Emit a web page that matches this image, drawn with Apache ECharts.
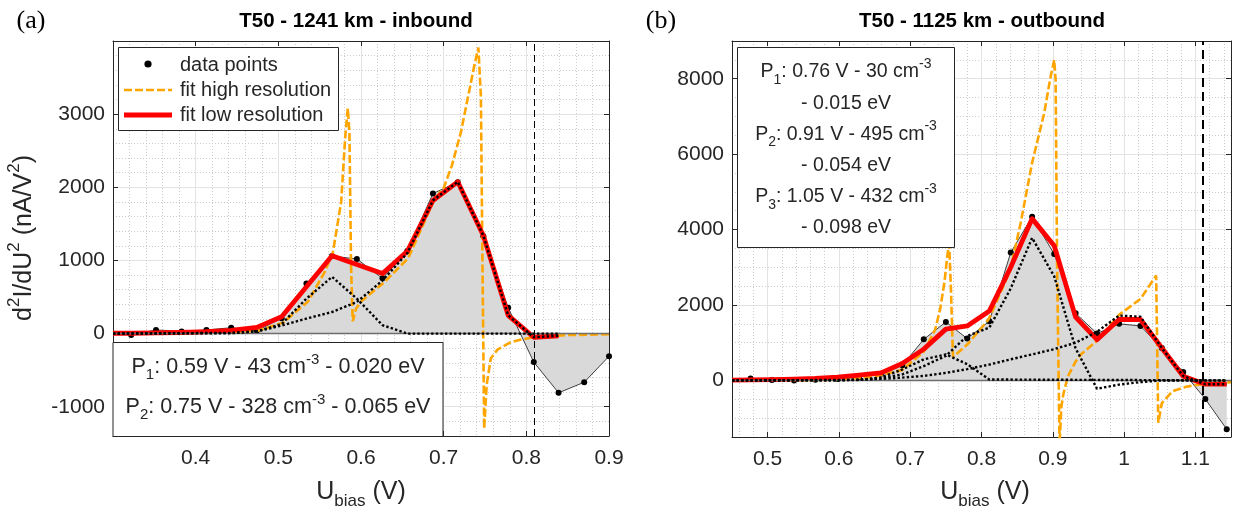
<!DOCTYPE html>
<html><head><meta charset="utf-8">
<script src="https://cdn.jsdelivr.net/npm/echarts@6/dist/echarts.min.js"></script>
<style>html,body{margin:0;padding:0;background:#fff}#c{width:1235px;height:513px}</style>
</head><body><div id="c"></div>
<script>
// ---------------- Panel (a): T50 - 1241 km - inbound ----------------
const aDataX = [0.322, 0.352, 0.383, 0.413, 0.443, 0.474, 0.504, 0.534, 0.565, 0.595, 0.626, 0.656, 0.687, 0.717, 0.748, 0.778, 0.809, 0.839, 0.870, 0.900];
const aDataY = [-20, 50, 30, 50, 80, 40, 210, 685, 1060, 1020, 755, 1130, 1915, 2070, 1330, 355, -390, -810, -665, -310];
const aLowX = [0.300, 0.322, 0.352, 0.383, 0.413, 0.443, 0.474, 0.504, 0.534, 0.565, 0.595, 0.626, 0.656, 0.687, 0.717, 0.748, 0.778, 0.809, 0.839];
const aLowY = [5, 5, 10, 15, 25, 45, 85, 230, 640, 1065, 945, 820, 1125, 1820, 2075, 1340, 250, -50, -30];
const aHighX = [0.300, 0.350, 0.400, 0.450, 0.475, 0.506, 0.536, 0.556, 0.566, 0.576, 0.581, 0.584, 0.586, 0.588, 0.590, 0.594, 0.600, 0.628, 0.657, 0.689, 0.700, 0.710, 0.721, 0.729, 0.737, 0.742, 0.745, 0.747, 0.749, 0.752, 0.757, 0.765, 0.779, 0.790, 0.810, 0.850, 0.900];
const aHighY = [0, 5, 10, 20, 40, 150, 440, 840, 1110, 1800, 2700, 3080, 2750, 900, 170, 340, 440, 700, 1030, 1840, 1990, 2300, 2760, 3210, 3660, 3910, 3250, 900, -1300, -700, -340, -220, -130, -90, -45, -20, -10];
const aP1X = [0.300, 0.443, 0.474, 0.504, 0.534, 0.565, 0.595, 0.626, 0.656, 0.839];
const aP1Y = [0, 5, 30, 130, 478, 775, 478, 115, 0, 0];
const aP2X = [0.300, 0.443, 0.474, 0.504, 0.534, 0.565, 0.595, 0.626, 0.656, 0.687, 0.717, 0.748, 0.778, 0.809, 0.839];
const aP2Y = [0, 10, 30, 110, 205, 295, 432, 725, 1100, 1820, 2075, 1340, 250, -50, -30];
const aCutoff = 0.809;
const aXTickLabels = [0.4, 0.5, 0.6, 0.7, 0.8, 0.9];
const aYTickLabels = [-1000, 0, 1000, 2000, 3000];
const aXRange = [0.3, 0.9];
const aYRange = [-1400, 4000];
const aNotes = ['{m|P}{sub|1}{m|: 0.59 V - 43 cm}{sup|-3}{m| - 0.020 eV}',
                '{m|P}{sub|2}{m|: 0.75 V - 328 cm}{sup|-3}{m| - 0.065 eV}'];

// ---------------- Panel (b): T50 - 1125 km - outbound ----------------
const bDataX = [0.476, 0.506, 0.537, 0.567, 0.598, 0.628, 0.659, 0.689, 0.719, 0.750, 0.780, 0.811, 0.841, 0.871, 0.902, 0.932, 0.962, 0.993, 1.023, 1.053, 1.083, 1.114, 1.144];
const bDataY = [50, 10, 0, 20, 40, 90, 180, 400, 1090, 1550, 1110, 1570, 3390, 4340, 3350, 1780, 1245, 1500, 1445, 858, 222, -495, -1295];
const bLowX = [0.450, 0.476, 0.506, 0.537, 0.567, 0.598, 0.628, 0.659, 0.689, 0.719, 0.750, 0.780, 0.811, 0.841, 0.871, 0.902, 0.932, 0.962, 0.993, 1.023, 1.053, 1.083, 1.114, 1.144];
const bLowY = [10, 15, 20, 35, 55, 90, 140, 200, 450, 830, 1360, 1445, 1840, 3000, 4290, 3570, 1680, 1080, 1615, 1615, 860, 110, -100, -100];
const bHighX = [0.450, 0.550, 0.600, 0.650, 0.689, 0.719, 0.735, 0.742, 0.748, 0.752, 0.7546, 0.757, 0.760, 0.780, 0.810, 0.840, 0.855, 0.871, 0.888, 0.897, 0.902, 0.904, 0.906, 0.9095, 0.912, 0.915, 0.921, 0.932, 0.940, 0.962, 0.993, 1.023, 1.045, 1.048, 1.053, 1.068, 1.087, 1.106, 1.150];
const bHighY = [0, 5, 20, 100, 280, 760, 1350, 1890, 2600, 3300, 3620, 2500, 620, 950, 1620, 2900, 4180, 5770, 7090, 8060, 8500, 7970, 3100, -1700, -700, -350, 100, 500, 700, 1050, 1740, 2160, 2780, -1120, -600, -285, -170, -105, -45];
const bP1X = [0.450, 0.628, 0.659, 0.689, 0.719, 0.750, 0.780, 0.811, 1.144];
const bP1Y = [0, 10, 80, 290, 560, 690, 430, 25, 0];
const bP2X = [0.450, 0.628, 0.659, 0.689, 0.719, 0.750, 0.780, 0.811, 0.841, 0.871, 0.902, 0.932, 0.962, 0.993, 1.023, 1.053, 1.144];
const bP2Y = [0, 15, 60, 160, 380, 650, 1180, 1400, 2440, 3780, 2760, 850, -220, -110, -45, 0, 0];
const bP3X = [0.450, 0.598, 0.659, 0.689, 0.719, 0.750, 0.780, 0.811, 0.841, 0.871, 0.902, 0.932, 0.962, 0.993, 1.023, 1.053, 1.083, 1.114, 1.144];
const bP3Y = [0, 5, 40, 75, 120, 200, 300, 420, 560, 690, 830, 1000, 1290, 1720, 1690, 860, 115, -100, -100];
const bCutoff = 1.113;
const bXTickLabels = [0.5, 0.6, 0.7, 0.8, 0.9, 1.0, 1.1];
const bYTickLabels = [0, 2000, 4000, 6000, 8000];
const bXRange = [0.45, 1.15];
const bYRange = [-1500, 9000];
const bNotes = ['{m|P}{sub|1}{m|: 0.76 V - 30 cm}{sup|-3}',
                '{m|- 0.015 eV}',
                '{m|P}{sub|2}{m|: 0.91 V - 495 cm}{sup|-3}',
                '{m|- 0.054 eV}',
                '{m|P}{sub|3}{m|: 1.05 V - 432 cm}{sup|-3}',
                '{m|- 0.098 eV}'];

const legendNames = ['data points', 'fit high resolution', 'fit low resolution'];
const titles = ['T50 - 1241 km - inbound', 'T50 - 1125 km - outbound'];
const panelTags = ['(a)', '(b)'];

// ---------------- styling ----------------
const FONT = "'Liberation Sans', Arial, Helvetica, sans-serif";
const AX = '#262626';
const ORANGE = '#FFA500';
const RED = '#FF0000';
const FILL = '#d9d9d9';

const pairs = (X, Y) => X.map((x, i) => [x, Y[i]]);
const inList = (list, v) => list.some(t => Math.abs(t - v) < 1e-9);
const fmtX = v => String(Math.round(v * 100) / 100);
const fmtY = v => String(Math.round(v));

function xAxisPair(g, range, split, minorN, labels) {
  return [{
    type: 'value', gridIndex: g, min: range[0], max: range[1], splitNumber: split, position: 'bottom',
    axisLine: { show: true, onZero: false, lineStyle: { color: AX, width: 1 } },
    axisTick: { show: true, inside: true, length: 5, lineStyle: { color: AX } },
    axisLabel: { show: true, margin: 12, fontSize: 21, color: AX, fontFamily: FONT,
      showMinLabel: true, showMaxLabel: true, hideOverlap: false,
      formatter: v => inList(labels, v) ? fmtX(v) : '' },
    splitLine: { show: true, lineStyle: { color: '#e3e3e3', width: 1 } },
    minorTick: { show: false, splitNumber: minorN },
    minorSplitLine: { show: true, lineStyle: { color: '#cccccc', width: 1, type: [1, 2] } }
  }, {
    type: 'value', gridIndex: g, min: range[0], max: range[1], splitNumber: split, position: 'top',
    axisLine: { show: true, onZero: false, lineStyle: { color: AX, width: 1 } },
    axisTick: { show: true, inside: true, length: 5, lineStyle: { color: AX } },
    axisLabel: { show: false }, splitLine: { show: false }, minorSplitLine: { show: false }
  }];
}
function yAxisPair(g, range, split, minorN, labels) {
  return [{
    type: 'value', gridIndex: g, min: range[0], max: range[1], splitNumber: split, position: 'left',
    axisLine: { show: true, onZero: false, lineStyle: { color: AX, width: 1 } },
    axisTick: { show: true, inside: true, length: 5, lineStyle: { color: AX } },
    axisLabel: { show: true, margin: 8, fontSize: 21, color: AX, fontFamily: FONT,
      showMinLabel: true, showMaxLabel: true, hideOverlap: false,
      formatter: v => inList(labels, v) ? fmtY(v) : '' },
    splitLine: { show: true, lineStyle: { color: '#e3e3e3', width: 1 } },
    minorTick: { show: false, splitNumber: minorN },
    minorSplitLine: { show: true, lineStyle: { color: '#cccccc', width: 1, type: [1, 2] } }
  }, {
    type: 'value', gridIndex: g, min: range[0], max: range[1], splitNumber: split, position: 'right',
    axisLine: { show: true, onZero: false, lineStyle: { color: AX, width: 1 } },
    axisTick: { show: true, inside: true, length: 5, lineStyle: { color: AX } },
    axisLabel: { show: false }, splitLine: { show: false }, minorSplitLine: { show: false }
  }];
}

function panelSeries(xi, yi, d, cutoff, cutoffStyle) {
  const base = { type: 'line', xAxisIndex: xi, yAxisIndex: yi, animation: false, silent: true, clip: true };
  const dotted = name => Object.assign({}, base, { name, showSymbol: false, symbol: 'none',
    lineStyle: { color: '#000', width: 2.4, type: [2.4, 2.2] }, z: 6 });
  const list = [
    Object.assign({}, base, {
      name: legendNames[0], data: pairs(d.dataX, d.dataY), symbol: 'circle', symbolSize: 6, showSymbol: true,
      itemStyle: { color: '#000' }, lineStyle: { color: '#111', width: 0.8 },
      areaStyle: { color: FILL, opacity: 1 }, z: 2,
      markLine: { silent: true, symbol: ['none', 'none'], label: { show: false }, animation: false,
        data: [
          { yAxis: 0, lineStyle: { color: '#6e6e6e', width: 1.3, type: 'solid' } },
          { xAxis: cutoff, lineStyle: cutoffStyle }
        ] }
    }),
    Object.assign({}, base, { name: legendNames[1], data: pairs(d.highX, d.highY), showSymbol: false, symbol: 'none',
      lineStyle: { color: ORANGE, width: 2.6, type: [8, 3] }, z: 3 }),
    Object.assign({}, base, { name: legendNames[2], data: pairs(d.lowX, d.lowY), showSymbol: false, symbol: 'none',
      lineStyle: { color: RED, width: 4.8, join: 'round' }, z: 4 })
  ];
  d.comps.forEach((c, i) => list.push(Object.assign(dotted('P' + (i + 1)), { data: pairs(c[0], c[1]) })));
  return list;
}

const series = [].concat(
  panelSeries(0, 0, { dataX: aDataX, dataY: aDataY, lowX: aLowX, lowY: aLowY, highX: aHighX, highY: aHighY,
    comps: [[aP1X, aP1Y], [aP2X, aP2Y]] }, aCutoff, { color: '#000', width: 1, type: [7, 4] }),
  panelSeries(2, 2, { dataX: bDataX, dataY: bDataY, lowX: bLowX, lowY: bLowY, highX: bHighX, highY: bHighY,
    comps: [[bP1X, bP1Y], [bP2X, bP2Y], [bP3X, bP3Y]] }, bCutoff, { color: '#000', width: 2, type: [9, 5] })
);

// ---------------- text / legend / annotation graphics ----------------
function noteRich(fs, ss) {
  return {
    m: { fontSize: fs, fontFamily: FONT, fill: AX, lineHeight: 30, verticalAlign: 'middle' },
    sub: { fontSize: ss, fontFamily: FONT, fill: AX, lineHeight: ss, verticalAlign: 'bottom' },
    sup: { fontSize: ss, fontFamily: FONT, fill: AX, lineHeight: ss, verticalAlign: 'top' }
  };
}
function rtext(x, y, text, rich, rot) {
  return { type: 'text', x, y, rotation: rot || 0, z: 100, silent: true,
    style: { text, rich, align: 'center', verticalAlign: 'middle', fill: AX } };
}
const graphics = [];
// panel tags and titles
graphics.push({ type: 'text', x: 31, y: 21, z: 100, style: { text: panelTags[0], font: "26px 'Liberation Serif', 'Times New Roman', serif", fill: '#000', align: 'center', verticalAlign: 'middle' } });
graphics.push({ type: 'text', x: 661, y: 21, z: 100, style: { text: panelTags[1], font: "26px 'Liberation Serif', 'Times New Roman', serif", fill: '#000', align: 'center', verticalAlign: 'middle' } });
graphics.push({ type: 'text', x: 356, y: 21, z: 100, style: { text: titles[0], font: "bold 20.5px " + FONT, fill: '#000', align: 'center', verticalAlign: 'middle' } });
graphics.push({ type: 'text', x: 982, y: 21, z: 100, style: { text: titles[1], font: "bold 20.5px " + FONT, fill: '#000', align: 'center', verticalAlign: 'middle' } });
// axis labels
const richAxis = {
  m: { fontSize: 25, fontFamily: FONT, fill: AX, lineHeight: 36, verticalAlign: 'middle' },
  sub: { fontSize: 17, fontFamily: FONT, fill: AX, lineHeight: 17, verticalAlign: 'bottom' },
  sup: { fontSize: 17, fontFamily: FONT, fill: AX, lineHeight: 17, verticalAlign: 'top' }
};
graphics.push(rtext(361, 492, '{m|U}{sub|bias}{m| (V)}', richAxis));
graphics.push(rtext(985, 492, '{m|U}{sub|bias}{m| (V)}', richAxis));
graphics.push(rtext(24, 238, '{m|d}{sup|2}{m|I/dU}{sup|2}{m| (nA/V}{sup|2}{m|)}', richAxis, Math.PI / 2));
// legend box (panel a)
graphics.push({ type: 'rect', z: 100, shape: { x: 118.5, y: 47.5, width: 220, height: 83 }, style: { fill: '#fff', stroke: AX, lineWidth: 1 } });
graphics.push({ type: 'circle', z: 101, shape: { cx: 148, cy: 64, r: 3.6 }, style: { fill: '#000' } });
graphics.push({ type: 'line', z: 101, shape: { x1: 124, y1: 90, x2: 172, y2: 90 }, style: { stroke: ORANGE, lineWidth: 2.6, lineDash: [8, 3] } });
graphics.push({ type: 'line', z: 101, shape: { x1: 124, y1: 115, x2: 172, y2: 115 }, style: { stroke: RED, lineWidth: 4.8 } });
legendNames.forEach((n, i) => graphics.push({ type: 'text', x: 180, y: 65 + i * 25, z: 101,
  style: { text: n, font: '20px ' + FONT, fill: AX, align: 'left', verticalAlign: 'middle' } }));
// annotation box (panel a)
graphics.push({ type: 'rect', z: 100, shape: { x: 113, y: 342.5, width: 330, height: 94 }, style: { fill: '#fff', stroke: AX, lineWidth: 1 } });
aNotes.forEach((t, i) => graphics.push(rtext(278, 367 + i * 40, t, noteRich(21.5, 15))));
// annotation box (panel b)
graphics.push({ type: 'rect', z: 100, shape: { x: 737.5, y: 47.5, width: 217, height: 200 }, style: { fill: '#fff', stroke: AX, lineWidth: 1 } });
bNotes.forEach((t, i) => graphics.push(rtext(846, 72 + i * 31.2, t, noteRich(19.5, 14))));

const option = {
  animation: false,
  backgroundColor: '#fff',
  grid: [
    { left: 113, top: 41, width: 496, height: 395, outerBoundsMode: 'none', containLabel: false },
    { left: 732, top: 41, width: 499, height: 396, outerBoundsMode: 'none', containLabel: false }
  ],
  xAxis: [].concat(xAxisPair(0, aXRange, 6, 5, aXTickLabels), xAxisPair(1, bXRange, 7, 5, bXTickLabels)),
  yAxis: [].concat(yAxisPair(0, aYRange, 5, 5, aYTickLabels), yAxisPair(1, bYRange, 5, 4, bYTickLabels)),
  series: series,
  graphic: { elements: graphics }
};
const chart = echarts.init(document.getElementById('c'), null, { renderer: 'canvas' });
chart.setOption(option);
</script>
</body></html>
